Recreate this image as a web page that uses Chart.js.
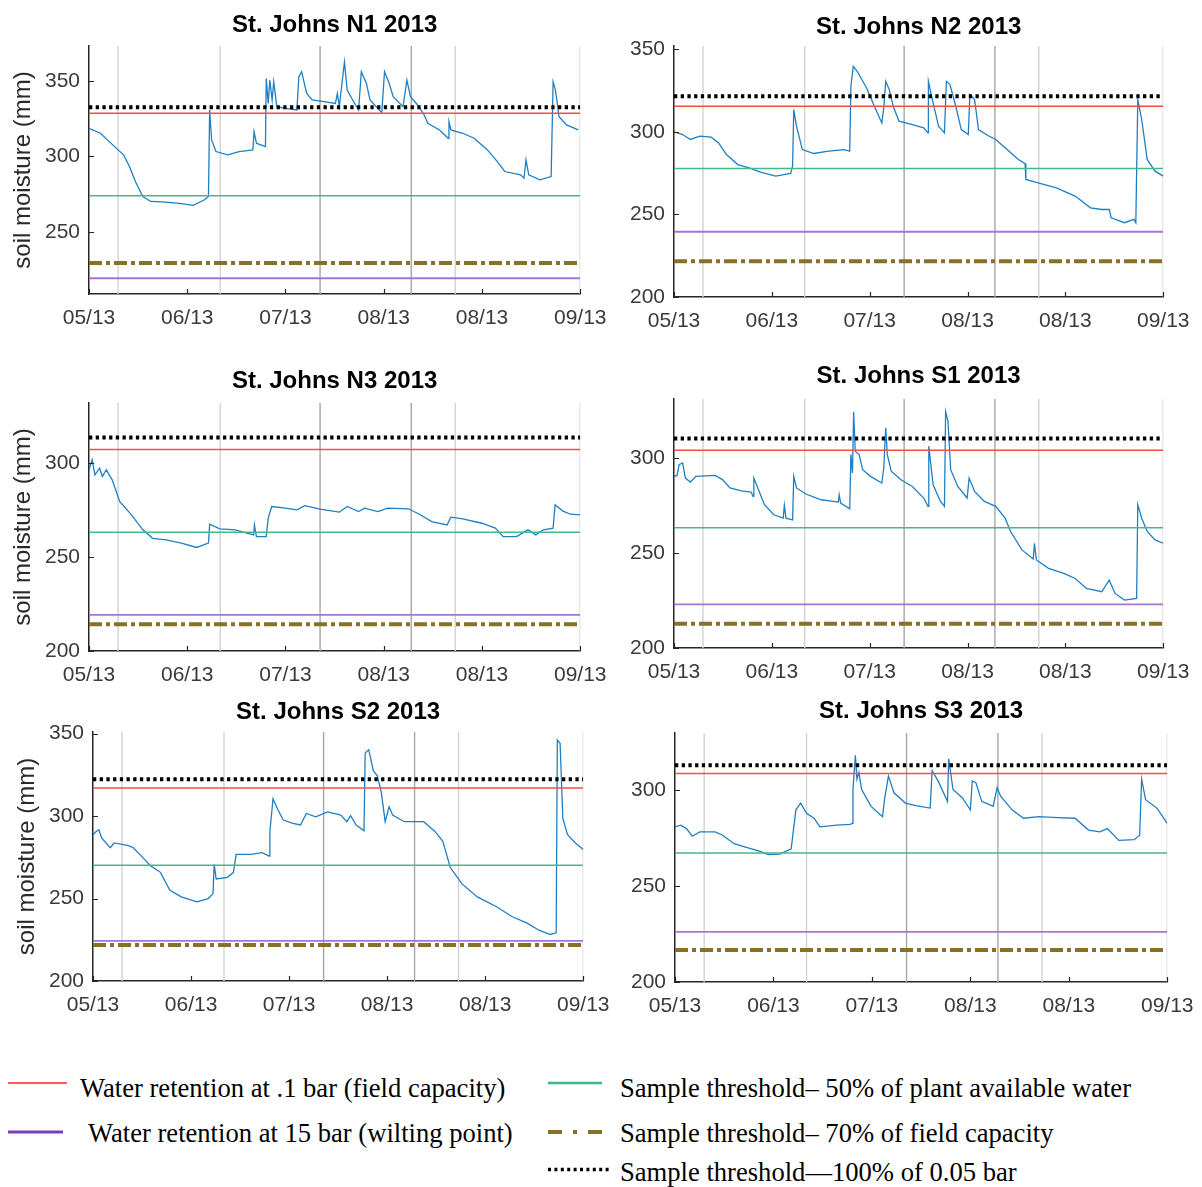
<!DOCTYPE html>
<html>
<head>
<meta charset="utf-8">
<script src="https://cdn.jsdelivr.net/npm/chart.js@4.4.0/dist/chart.umd.min.js"></script>
<style>
  body { margin: 0; background: #fff; width: 1202px; height: 1187px; position: relative; overflow: hidden; }
  canvas { position: absolute; }
  .leg { position: absolute; font-family: "Liberation Serif", "Times New Roman", serif; font-size: 26.6px; line-height: 30px; color: #000; white-space: nowrap; }
  svg { position: absolute; overflow: visible; }
</style>
</head>
<body>

<div class="leg" style="left:80px;top:1073px">Water retention at .1 bar (field capacity)</div>
<div class="leg" style="left:88px;top:1118px">Water retention at 15 bar (wilting point)</div>
<div class="leg" style="left:620px;top:1073px">Sample threshold– 50% of plant available water</div>
<div class="leg" style="left:620px;top:1118px">Sample threshold– 70% of field capacity</div>
<div class="leg" style="left:620px;top:1157px">Sample threshold—100% of 0.05 bar</div>
<svg width="1202" height="1187" style="left:0;top:0">
  <line x1="8" y1="1083" x2="67" y2="1083" stroke="#ff5a5a" stroke-width="2"/>
  <line x1="8" y1="1132" x2="63" y2="1132" stroke="#7d3cc0" stroke-width="3"/>
  <line x1="548" y1="1083" x2="602" y2="1083" stroke="#3fb98a" stroke-width="2.5"/>
  <line x1="548" y1="1132" x2="603" y2="1132" stroke="#86702a" stroke-width="4" stroke-dasharray="14 11 4 11"/>
  <line x1="548" y1="1169.5" x2="610" y2="1169.5" stroke="#000" stroke-width="3.5" stroke-dasharray="3 3.4"/>
</svg>

<script>
// x axis: days since start of the record, labelled by month
const xTickDays = [0, 25, 50, 75, 100, 125];
const xTickLabels = ['05/13', '06/13', '07/13', '08/13', '08/13', '09/13'];
const lightEventDays = [7.4, 33.4, 93.2, 125];
const darkEventDays = [58.8, 82];

const siteTitles = ['St. Johns N1 2013', 'St. Johns N2 2013', 'St. Johns N3 2013',
                    'St. Johns S1 2013', 'St. Johns S2 2013', 'St. Johns S3 2013'];
const yMin = [209, 200, 200, 200, 200, 200];
const yMax = [373, 352, 332, 331, 351, 330];
const yTicks = [[250, 300, 350], [200, 250, 300, 350], [200, 250, 300],
                [200, 250, 300], [200, 250, 300, 350], [200, 250, 300]];

// threshold levels (mm), one per site
const fieldCapacity = [328.5, 315.5, 307.2, 304.0, 317.0, 308.9];
const wiltingPoint = [219.4, 239.5, 219.2, 223.0, 224.3, 226.2];
const pawHalf = [274.0, 277.8, 263.2, 263.2, 270.2, 267.4];
const fc70 = [229.5, 221.6, 214.2, 212.7, 221.9, 216.7];
const bar005 = [332.5, 321.5, 313.6, 310.2, 322.4, 313.2];

// soil moisture series
const n1Days = [0,2.9,7.4,8.8,10.3,11.8,13.7,15.7,19.6,23.5,26.5,29.4,30.4,30.7,31.2,32.3,35.3,38.2,41.7,42,42.6,44.9,45.1,45.6,46,46.6,47,47.8,50,52.9,53.4,54.1,55.4,56.8,59.8,62.7,63.2,63.7,65,65.7,67.1,68.6,69.3,70.6,71.5,74.5,75.2,76.4,77.4,79.9,80.9,81.8,83.3,85.3,86.2,89.2,91.4,91.6,92.1,95.1,98,101.4,103.9,105.8,109.8,110.7,111.2,111.9,114.7,117.6,118.1,118.7,119.6,121.5,124.5];
const n1Soil = [318.6,315.3,304.3,301,293.3,283.4,273.5,270.2,269.8,268.7,267.6,271.3,273.5,330.7,310.9,303.2,301,303.2,304.3,316.4,308.7,306.5,351.5,335,350.4,337.3,349.3,332.9,331.8,330.7,352.6,356,341.6,337.3,336.2,335,341.6,332.9,362.5,343.8,337.3,330.7,356,348.2,337.3,328.9,356,348.2,339.5,332.9,350.4,339.5,335,327.4,321.9,317.5,312,323,317.5,315.3,312,304.3,296.6,290,287.8,285.6,297.7,287.8,284.5,286.7,349.3,343.8,326.3,320.8,317.5];

const n2Days = [0,2.2,4.2,6.6,9.5,11.4,13.4,16.3,19.2,22.1,26,29.8,30.3,30.6,31.3,32.8,35.7,39.5,43.4,44.9,45.2,45.8,46.8,49.2,51.2,53.1,53.6,54.1,55,56,57.5,60.9,63.8,64.9,65,66.2,67.6,69.1,69.6,70.5,72,73.4,75.2,75.6,76.8,77.8,80.2,82.2,85.1,88,89.7,89.9,92.8,97.7,102.5,106.4,109.3,111.2,111.7,115.1,117.5,118,118.5,119.5,120.9,122.9,125];
const n2Soil = [300,298.4,295.4,297.4,296.8,293.3,286.3,280.2,278.2,275.6,273.2,274.8,279.2,313.5,303.4,289.3,286.9,288.3,289.3,288.3,327.6,339.7,336.7,326.6,315.5,305.4,314.5,330.6,325.6,315.5,306.5,304.4,302.4,299.4,330.6,317.5,303.4,299.4,330.6,328.6,315.5,301.4,298.4,322.6,319.6,301.4,297.8,295.4,289.3,283.3,280.8,271.2,269.2,266.1,261.1,254,253,253,248,245,247,245,319.6,307.5,283.3,276.2,273.2];

const n3Days = [0,0.8,1.5,2.7,3.4,4.4,5.9,7.8,10.8,13.7,16.2,19.6,23.5,27.4,30.4,30.7,33.3,37.2,40.2,41.9,42.1,42.6,45.1,45.6,46.5,50,52.9,54.9,58.8,63.7,65.7,68.6,70.1,73.5,76,81.3,84.3,87.2,91.1,92.1,95.1,100,103.4,105.4,108.8,111.7,113.7,115.6,118.1,118.6,120.5,122.5,125];
const n3Soil = [296.4,301.8,293.8,297.3,292.9,296.4,291.1,279.6,272.5,264.5,260,259.1,257.4,255.1,257.4,267.5,265,264.5,262.7,261.8,267.1,260.9,260.9,270.7,276.9,276,275.1,277.4,275.5,273.9,276.9,274.2,276,274.2,276,275.7,272.5,268.9,267.1,271.2,270.3,268,265.4,260.9,260.9,264.5,261.8,264.5,265.4,277.8,274.6,272.8,272.5];

const s1Days = [0,0.8,1.3,2.2,2.9,4.2,5.6,10.5,12.4,14.3,17.2,19.7,20.2,20.4,21.6,23.1,25.5,27.9,28.2,28.6,30.3,30.6,31.3,33.7,37.6,42,42.2,42.6,44.9,45.2,45.6,45.9,46.3,47.3,48.2,50.2,53.1,53.6,54.1,54.5,55.5,57.9,60.9,63.8,64.9,65.1,66.2,68.1,69.1,69.4,70,70.7,72.5,74.9,75.4,76.8,79.3,82.2,84.6,86,88.9,91.8,92.1,92.6,95.7,99.6,102.5,105.4,109.3,111.2,112.7,115.1,118.2,118.5,119.5,120.9,122.9,125];
const s1Soil = [290.3,290.8,296.5,297.4,289.4,287.3,290.3,290.8,288.6,284.2,282.7,282,279.8,289.4,283.3,275.4,270.1,268.3,275,268.3,267.4,290.3,284.2,281,278,276.8,280.6,276.2,273.2,301.8,292.1,324.3,303.5,301.8,293.8,290.3,286.8,294.7,315.8,301.8,293,288.6,285,278.9,274.5,306.2,285.9,277.1,274.5,324.3,319.4,293.8,285,278.9,289.4,282.4,277.1,274.5,268.3,261.3,251.6,246.8,255.1,246.3,241.9,239.3,236.6,231.3,229.6,235.7,228.7,225.2,226.1,275.4,268.3,261.3,256.9,255.1];

const s2Days = [0,0.8,1.5,2.2,4.4,5.4,8.8,10.3,12.7,14.7,17.2,19.6,22.5,26.5,29.4,30.6,30.9,31.4,34.3,35.8,36.5,40.2,43.1,44.9,45.1,45.9,47,48.5,51,52.9,54.4,56.8,59.8,63.2,64.7,65.7,67.1,69.1,69.4,70.3,71.5,72.5,73.5,74.5,75.5,76.4,79.4,84.3,87.2,89.2,91.1,94.1,98,102.9,106.8,110.7,113.7,116.6,118.1,118.4,119.1,119.8,121,123,125];
const s2Soil = [288.7,290.7,291.7,286.7,280.8,283.7,282.3,280.8,274.8,269.8,265.9,255,251,248,250,253,270.8,261.9,262.9,265.9,276.8,276.8,277.8,275.8,290.7,310.5,304.6,297.6,295.6,294.6,301.6,299.6,302.6,300.6,296.6,300.2,294.6,291.1,338.3,340.3,327.4,324.4,314.5,296.6,305.6,300.6,296.6,296.6,290.7,284.7,268.8,258.9,251,245,239.1,235.1,230.8,228.2,229.2,346.2,344.2,298.6,288.7,283.7,279.8];

const s3Days = [0,1.5,2.9,4.4,6.3,10.2,12.1,15,17.9,21.8,23.7,26.6,29.5,30.7,31.9,33.4,35.3,36.8,41.1,44.5,45,45.2,45.8,46.2,46.7,47.4,49.8,52.7,53.2,54.2,55.6,58.5,61.4,64.8,65.3,66.8,69.2,69.5,70.6,73,75,75.5,76.4,77.9,80.8,81.8,82.7,85.6,88.5,92.4,97.2,101.6,105,107.9,109.8,112.7,116.6,118,118.5,119.5,122.4,125];
const s3Soil = [281,281.9,280.1,276.1,278.4,278.4,276.6,272.2,270.4,268.1,266.5,266.8,269.5,289.9,293.4,288.1,285.5,281,281.9,282.3,282.8,300.5,318.3,305.9,309.4,300.5,291.7,286.3,295.2,307.6,298.8,293.4,292,290.8,310.3,305,294.3,316.5,300.5,296.1,289.9,305,304.1,294.3,291.7,301.4,297,289.9,285.5,286.3,285.8,285.5,279.3,278.4,280.1,273.9,274.3,276.6,305.9,295.2,290.8,282.8];

const series = [[n1Days, n1Soil], [n2Days, n2Soil], [n3Days, n3Soil],
                [s1Days, s1Soil], [s2Days, s2Soil], [s3Days, s3Soil]];

// plot-area boxes on the page (l, t, r, b) and title distance above the plot
const boxes = [
  { l: 89, t: 46, r: 586, b: 294, tt: 21, yTitle: true },
  { l: 674, t: 46, r: 1169, b: 297, tt: 19, yTitle: false },
  { l: 89, t: 403, r: 586, b: 651, tt: 21.5, yTitle: true },
  { l: 674, t: 399, r: 1169, b: 648, tt: 22.5, yTitle: false },
  { l: 93, t: 732, r: 589, b: 981, tt: 20, yTitle: true },
  { l: 675, t: 733, r: 1173, b: 982, tt: 21.5, yTitle: false }
];

const inwardTicks = {
  id: 'inwardTicks',
  afterDraw(chart) {
    const { ctx, chartArea: a, scales: { x, y } } = chart;
    ctx.save();
    ctx.strokeStyle = '#262626';
    ctx.lineWidth = 1.2;
    ctx.beginPath();
    x.ticks.forEach(t => {
      const px = Math.round(x.getPixelForValue(t.value)) + 0.5;
      ctx.moveTo(px, a.bottom);
      ctx.lineTo(px, a.bottom - 5);
    });
    y.ticks.forEach(t => {
      const py = Math.round(y.getPixelForValue(t.value)) + 0.5;
      ctx.moveTo(a.left, py);
      ctx.lineTo(a.left + 5, py);
    });
    ctx.stroke();
    ctx.restore();
  }
};

function hline(v, color, width, dash) {
  return {
    data: [{ x: 0, y: v }, { x: 125, y: v }],
    borderColor: color, borderWidth: width, borderDash: dash || [],
    borderCapStyle: 'butt', pointRadius: 0
  };
}

function vlines(days, lo, hi, color) {
  return {
    data: days.flatMap(d => [{ x: d, y: lo }, { x: d, y: hi }, { x: d, y: null }]),
    borderColor: color, borderWidth: 1.4, pointRadius: 0, spanGaps: false
  };
}

const TOP_H = 48, BOT_H = 44, PAD_R = 32;

boxes.forEach((box, i) => {
  const yW = box.yTitle ? 90 : 60;
  const cv = document.createElement('canvas');
  cv.width = (box.r - box.l) + yW + PAD_R;
  cv.height = (box.b - box.t) + TOP_H + BOT_H;
  cv.style.left = (box.l - yW) + 'px';
  cv.style.top = (box.t - TOP_H) + 'px';
  document.body.appendChild(cv);

  const [days, soil] = series[i];
  const padTop = TOP_H - box.tt - 14.4;

  new Chart(cv, {
    type: 'line',
    data: {
      datasets: [
        hline(bar005[i], '#000000', 4, [3.3, 3.4]),
        hline(fc70[i], '#86702a', 4, [13, 4, 4, 4]),
        hline(fieldCapacity[i], '#ff4a4a', 1.5),
        hline(pawHalf[i], '#45b98c', 1.5),
        hline(wiltingPoint[i], '#a872d6', 1.8),
        {
          data: days.map((d, k) => ({ x: d, y: soil[k] })),
          borderColor: '#1f7fc4', borderWidth: 1.3, pointRadius: 0, tension: 0
        },
        vlines(darkEventDays, yMin[i], yMax[i], '#a6a6a6'),
        vlines(lightEventDays, yMin[i], yMax[i], '#d2d2d2')
      ]
    },
    options: {
      responsive: false,
      animation: false,
      events: [],
      layout: { padding: { left: 0, top: 0, right: PAD_R, bottom: 0 } },
      plugins: {
        legend: { display: false },
        tooltip: { enabled: false },
        title: {
          display: true,
          text: siteTitles[i],
          fullSize: false,
          color: '#000',
          font: { family: 'Liberation Sans, Arial, sans-serif', size: 24, weight: 'bold' },
          padding: { top: padTop, bottom: TOP_H - padTop - 28.8 }
        }
      },
      scales: {
        x: {
          type: 'linear',
          min: 0, max: 125,
          grid: { display: false, drawTicks: false },
          border: { display: true, color: '#262626', width: 1.5 },
          afterBuildTicks: s => { s.ticks = xTickDays.map(v => ({ value: v })); },
          afterFit: s => { s.height = BOT_H; },
          ticks: {
            autoSkip: false, maxRotation: 0, padding: 11.5, color: '#3a3a3a',
            font: { family: 'Liberation Sans, Arial, sans-serif', size: 21 },
            callback: (v, idx) => xTickLabels[idx]
          }
        },
        y: {
          min: yMin[i], max: yMax[i],
          grid: { display: false, drawTicks: false },
          border: { display: true, color: '#262626', width: 1.5 },
          afterBuildTicks: s => { s.ticks = yTicks[i].map(v => ({ value: v })); },
          afterFit: s => { s.width = yW; },
          ticks: {
            padding: 9, color: '#3a3a3a',
            font: { family: 'Liberation Sans, Arial, sans-serif', size: 21 }
          },
          title: {
            display: box.yTitle,
            text: 'soil moisture (mm)',
            color: '#2a2a2a',
            font: { family: 'Liberation Sans, Arial, sans-serif', size: 24 },
            padding: { top: 9.5, bottom: 0 }
          }
        }
      }
    },
    plugins: [inwardTicks]
  });
});
</script>
</body>
</html>
